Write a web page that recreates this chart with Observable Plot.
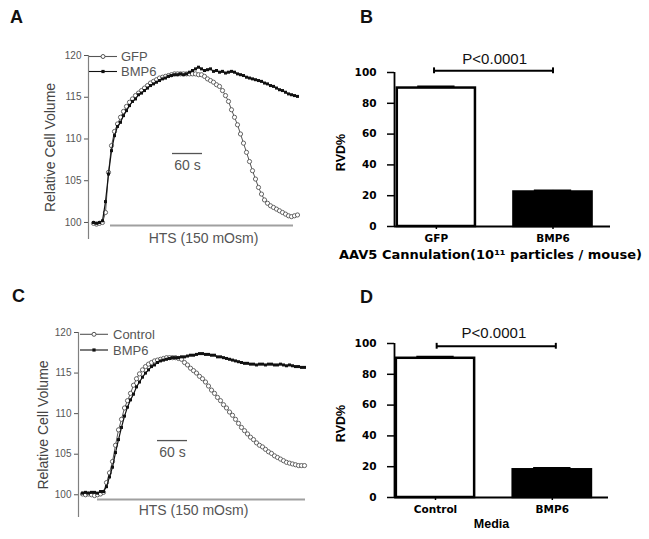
<!DOCTYPE html>
<html><head><meta charset="utf-8">
<script src="https://cdn.jsdelivr.net/npm/d3@7"></script>
<script src="https://cdn.jsdelivr.net/npm/@observablehq/plot@0.6"></script>
<style>
body{margin:0;background:#fff;}
#fig{position:relative;width:649px;height:539px;overflow:hidden;background:#fff;}
.panel{position:absolute;}
</style></head><body><div id="fig"></div>
<script>
// ---------- DATA ----------
const sampleStepSec = 6; // seconds between recorded points
// Panel A: relative cell volume (%) sampled every 6 s
const gfpA = [99.9,99.8,99.9,100.0,101.2,106.0,109.2,110.9,111.8,112.6,113.3,113.9,114.4,114.8,115.2,115.5,115.8,116.1,116.4,116.7,116.9,117.1,117.3,117.4,117.5,117.6,117.7,117.8,117.8,117.8,117.8,117.8,117.8,117.8,117.8,117.7,117.7,117.5,117.2,117.0,116.8,116.5,116.3,115.8,115.2,114.5,113.5,112.6,111.7,110.6,109.5,108.4,107.3,106.2,105.2,104.2,103.4,102.7,102.3,102.0,101.8,101.6,101.4,101.2,101.0,100.8,100.7,100.8,100.9];
const bmp6A = [100.0,99.9,100.0,100.2,102.5,105.8,108.6,110.4,111.5,112.0,112.8,113.4,114.0,114.5,114.8,115.3,115.5,115.8,116.1,116.4,116.6,116.8,117.0,117.2,117.3,117.5,117.6,117.7,117.7,117.8,117.7,117.8,118.0,118.2,118.4,118.6,118.4,118.2,118.3,118.4,118.1,118.2,118.0,118.1,117.9,118.0,118.1,118.0,117.8,117.7,117.6,117.4,117.3,117.2,117.1,117.0,116.9,116.7,116.6,116.4,116.3,116.1,115.9,115.8,115.6,115.4,115.3,115.2,115.1];
// Panel C
const controlC = [100.1,100.0,100.1,100.0,99.9,100.0,100.1,100.3,101.5,102.7,104.1,106.1,108.0,109.3,110.7,111.6,112.5,113.5,114.3,114.9,115.4,115.8,116.1,116.3,116.5,116.6,116.7,116.8,116.9,116.9,116.9,116.9,116.8,116.7,116.3,116.0,115.6,115.3,115.0,114.6,114.3,113.9,113.4,112.9,112.5,112.0,111.6,111.1,110.7,110.2,109.8,109.3,108.8,108.3,107.9,107.5,107.1,106.8,106.4,106.1,105.9,105.6,105.3,105.1,104.8,104.6,104.4,104.2,104.0,103.9,103.8,103.7,103.6,103.6,103.6];
const bmp6C = [100.2,100.3,100.2,100.3,100.3,100.2,100.4,100.4,101.0,102.2,103.4,105.2,106.8,108.3,109.7,110.8,111.7,112.4,113.3,113.9,114.5,115.0,115.4,115.8,116.0,116.3,116.5,116.6,116.7,116.8,116.9,116.9,116.9,117.0,117.0,117.1,117.2,117.2,117.3,117.4,117.4,117.3,117.3,117.2,117.2,117.0,117.0,116.9,116.8,116.7,116.6,116.5,116.4,116.3,116.2,116.2,116.1,116.1,116.0,116.1,116.1,116.0,116.1,116.1,116.0,116.0,116.1,116.0,115.9,116.0,115.9,115.8,115.8,115.7,115.7];
const lineYTicks = [100,105,110,115,120];
const lineYLabel = "Relative Cell Volume";
const seriesNamesA = ["GFP","BMP6"];
const seriesNamesC = ["Control","BMP6"];
// stimulus period (s) and 60 s scale bar
const htsA = {start:34, end:400, level:99.64, labelAt:220, label:"HTS (150 mOsm)"};
const htsC = {start:30, end:446, level:99.42, labelAt:222, label:"HTS (150 mOsm)"};
const scaleBarA = {start:158, end:218, level:108.26, label:"60 s"};
const scaleBarC = {start:150, end:210, level:106.68, label:"60 s"};

// Panels B and D: RVD%
const catsB = ["GFP","BMP6"];
const meansB = [89.9, 22.4];
const semsB = [1.0, 1.0];
const catsD = ["Control","BMP6"];
const meansD = [90.4, 18.0];
const semsD = [1.0, 1.1];
const barYTicks = [0,20,40,60,80,100];
const barYLabel = "RVD%";
const xLabelB = "AAV5 Cannulation(10¹¹ particles / mouse)";
const xLabelD = "Media";
const pLabel = "P<0.0001";

// ---------- STYLE ----------
const barFills = ["#ffffff","#000000"];
const fig = document.getElementById("fig");
function place(node, left, top){
  const d = document.createElement("div");
  d.className = "panel"; d.style.left = left+"px"; d.style.top = top+"px";
  d.appendChild(node); fig.appendChild(d);
}

function linePanel(o){
  const [open, filled] = o.series.map(vals => vals.map((v,i)=>({t:i*sampleStepSec, v})));
  return Plot.plot({
    width:o.width, height:o.height,
    marginLeft:o.ml, marginRight:o.mr, marginTop:o.mt, marginBottom:o.mb,
    x:{domain:o.xDomain, axis:null},
    y:{domain:o.yDomain, label:null},
    style:{fontFamily:"'Liberation Sans', Arial, sans-serif", color:"#555", background:"transparent", overflow:"visible"},
    marks:[
      Plot.ruleX([o.xDomain[0]], {stroke:"#808080", strokeWidth:1.2}),
      Plot.axisY(lineYTicks, {tickSize:4, tickPadding:3, fontSize:10, label:null}),
      Plot.ruleY([o.hts], {y:"level", x1:"start", x2:"end", stroke:"#a0a0a0", strokeWidth:2}),
      Plot.text([o.hts], {x:"labelAt", y:"level", text:"label", dy:o.htsDy, fontSize:14, fill:"#555"}),
      Plot.ruleY([o.bar], {y:"level", x1:"start", x2:"end", stroke:"#555", strokeWidth:1.3}),
      Plot.text([o.bar], {x:d=>(d.start+d.end)/2, y:"level", text:"label", dy:12, fontSize:14, fill:"#555"}),
      Plot.text([lineYLabel], {frameAnchor:"left", textAnchor:"middle", rotate:-90, dx:o.labelDx, text:d=>d, fontSize:14, fill:"#444"}),
      Plot.line(open, {x:"t", y:"v", stroke:"#555", strokeWidth:1}),
      Plot.dot(open, {x:"t", y:"v", r:2.1, stroke:"#555", fill:"white", strokeWidth:0.9}),
      Plot.line(filled, {x:"t", y:"v", stroke:"#111", strokeWidth:1.2}),
      Plot.dot(filled, {x:"t", y:"v", symbol:"square", r:1.7, fill:"#111", stroke:"none"})
    ]
  });
}

function barPanel(o){
  const data = o.cats.map((c,i)=>({i, cat:c, v:o.means[i], e:o.sems[i], fill:barFills[i]}));
  const half = 0.335;
  return Plot.plot({
    width:329, height:o.height,
    marginLeft:74, marginRight:o.mr, marginTop:o.mt, marginBottom:o.mb,
    x:{domain:o.xDomain, label:null},
    y:{domain:[0,100], label:null},
    color:{type:"identity"},
    style:{fontFamily:"'DejaVu Sans', sans-serif", color:"#000", background:"transparent", overflow:"visible"},
    marks:[
      Plot.rectY(data, {x1:d=>d.i-half, x2:d=>d.i+half, y1:0, y2:"v", fill:"fill", stroke:"#000", strokeWidth:2.5}),
      Plot.ruleX(data, {x:"i", y1:"v", y2:d=>d.v+d.e, stroke:"#000", strokeWidth:2}),
      Plot.ruleY(data, {y:d=>d.v+d.e, x1:d=>d.i-0.16, x2:d=>d.i+0.16, stroke:"#000", strokeWidth:2}),
      Plot.ruleX([o.xDomain[0]], {stroke:"#000", strokeWidth:1.8}),
      Plot.ruleY([0], {stroke:"#000", strokeWidth:1.8}),
      Plot.axisY(barYTicks, {tickSize:7, tickPadding:11, fontSize:10.5, fontWeight:"bold", label:null, strokeWidth:1.5}),
      Plot.axisX([0,1], {tickFormat:i=>o.cats[i], tickSize:3, tickPadding:5, fontSize:10.5, fontWeight:"bold", label:null, strokeWidth:1.5}),
      Plot.text([barYLabel], {frameAnchor:"left", textAnchor:"middle", rotate:-90, dx:-54, dy:3, text:d=>d, fontSize:12.5, fontWeight:"bold", fontFamily:"'Liberation Sans', Arial, sans-serif"}),
      Plot.text([o.xLabel], {frameAnchor:"bottom", dx:o.xLabelDx, dy:o.xLabelDy, text:d=>d, fontSize:o.xLabelSize, fontWeight:"bold", fontFamily:o.xLabelFont}),
      Plot.ruleY([o.bracket], {y:"y", x1:"from", x2:"to", stroke:"#000", strokeWidth:2}),
      Plot.ruleX([o.bracket.from, o.bracket.to], {x:d=>d, y1:o.bracket.y-1.9, y2:o.bracket.y+1.9, stroke:"#000", strokeWidth:2}),
      Plot.text([o.bracket], {x:0.5, y:"labelY", text:()=>pLabel, fontSize:15, fontFamily:"'Liberation Sans', Arial, sans-serif", fill:"#111"})
    ]
  });
}

place(linePanel({series:[gfpA,bmp6A], width:320, height:270, ml:88, mr:17, mt:55, mb:31,
  xDomain:[-10,420], yDomain:[97.96,120], hts:htsA, bar:scaleBarA, htsDy:13, labelDx:-38}), 0, 0);
place(linePanel({series:[controlC,bmp6C], width:320, height:269, ml:78, mr:8, mt:62, mb:22,
  xDomain:[-8,460], yDomain:[97.2,120], hts:htsC, bar:scaleBarC, htsDy:11, labelDx:-35}), 0, 270);
place(barPanel({cats:catsB, means:meansB, sems:semsB, height:270, mt:72, mb:44, mr:39,
  xDomain:[-0.359,1.493], xLabel:xLabelB, xLabelDx:-12, xLabelDy:32, xLabelSize:13,
  xLabelFont:"'DejaVu Sans', sans-serif",
  bracket:{from:-0.02, to:1.0, y:101.1, labelY:108.9}}), 320, 0);
place(barPanel({cats:catsD, means:meansD, sems:semsD, height:269, mt:73, mb:42, mr:41,
  xDomain:[-0.351,1.481], xLabel:xLabelD, xLabelDx:-10, xLabelDy:30, xLabelSize:12.5,
  xLabelFont:"'Liberation Sans', Arial, sans-serif",
  bracket:{from:0.01, to:1.03, y:98.2, labelY:106.5}}), 320, 270);

// ---------- overlay: panel letters and legends ----------
const ov = d3.select(fig).append("svg").attr("width",649).attr("height",539)
  .style("position","absolute").style("left","0px").style("top","0px");
const letters = [["A",10,23],["B",360,23],["C",12,302],["D",360,303]];
ov.selectAll("text.letter").data(letters).join("text").attr("class","letter")
  .attr("x",d=>d[1]).attr("y",d=>d[2]).text(d=>d[0])
  .attr("font-family","'Liberation Sans', Arial, sans-serif").attr("font-weight","bold").attr("font-size",18).attr("fill","#111");

function legend(names, x0, x1, ys, tx){
  names.forEach((name,k)=>{
    const g = ov.append("g");
    const y = ys[k], xm = (x0+x1)/2;
    g.append("line").attr("x1",x0).attr("x2",x1).attr("y1",y).attr("y2",y)
      .attr("stroke", k===0?"#555":"#111").attr("stroke-width",1.1);
    if(k===0) g.append("circle").attr("cx",xm).attr("cy",y).attr("r",2).attr("fill","white").attr("stroke","#555");
    else g.append("rect").attr("x",xm-1.6).attr("y",y-1.6).attr("width",3.2).attr("height",3.2).attr("fill","#111");
    g.append("text").attr("x",tx).attr("y",y).attr("dy","0.35em").text(name)
      .attr("font-family","'Liberation Sans', Arial, sans-serif").attr("font-size",13).attr("fill","#555");
  });
}
legend(seriesNamesA, 89, 117, [56.5,71.5], 121);
legend(seriesNamesC, 80, 108, [334.3,350], 113);
</script></body></html>
